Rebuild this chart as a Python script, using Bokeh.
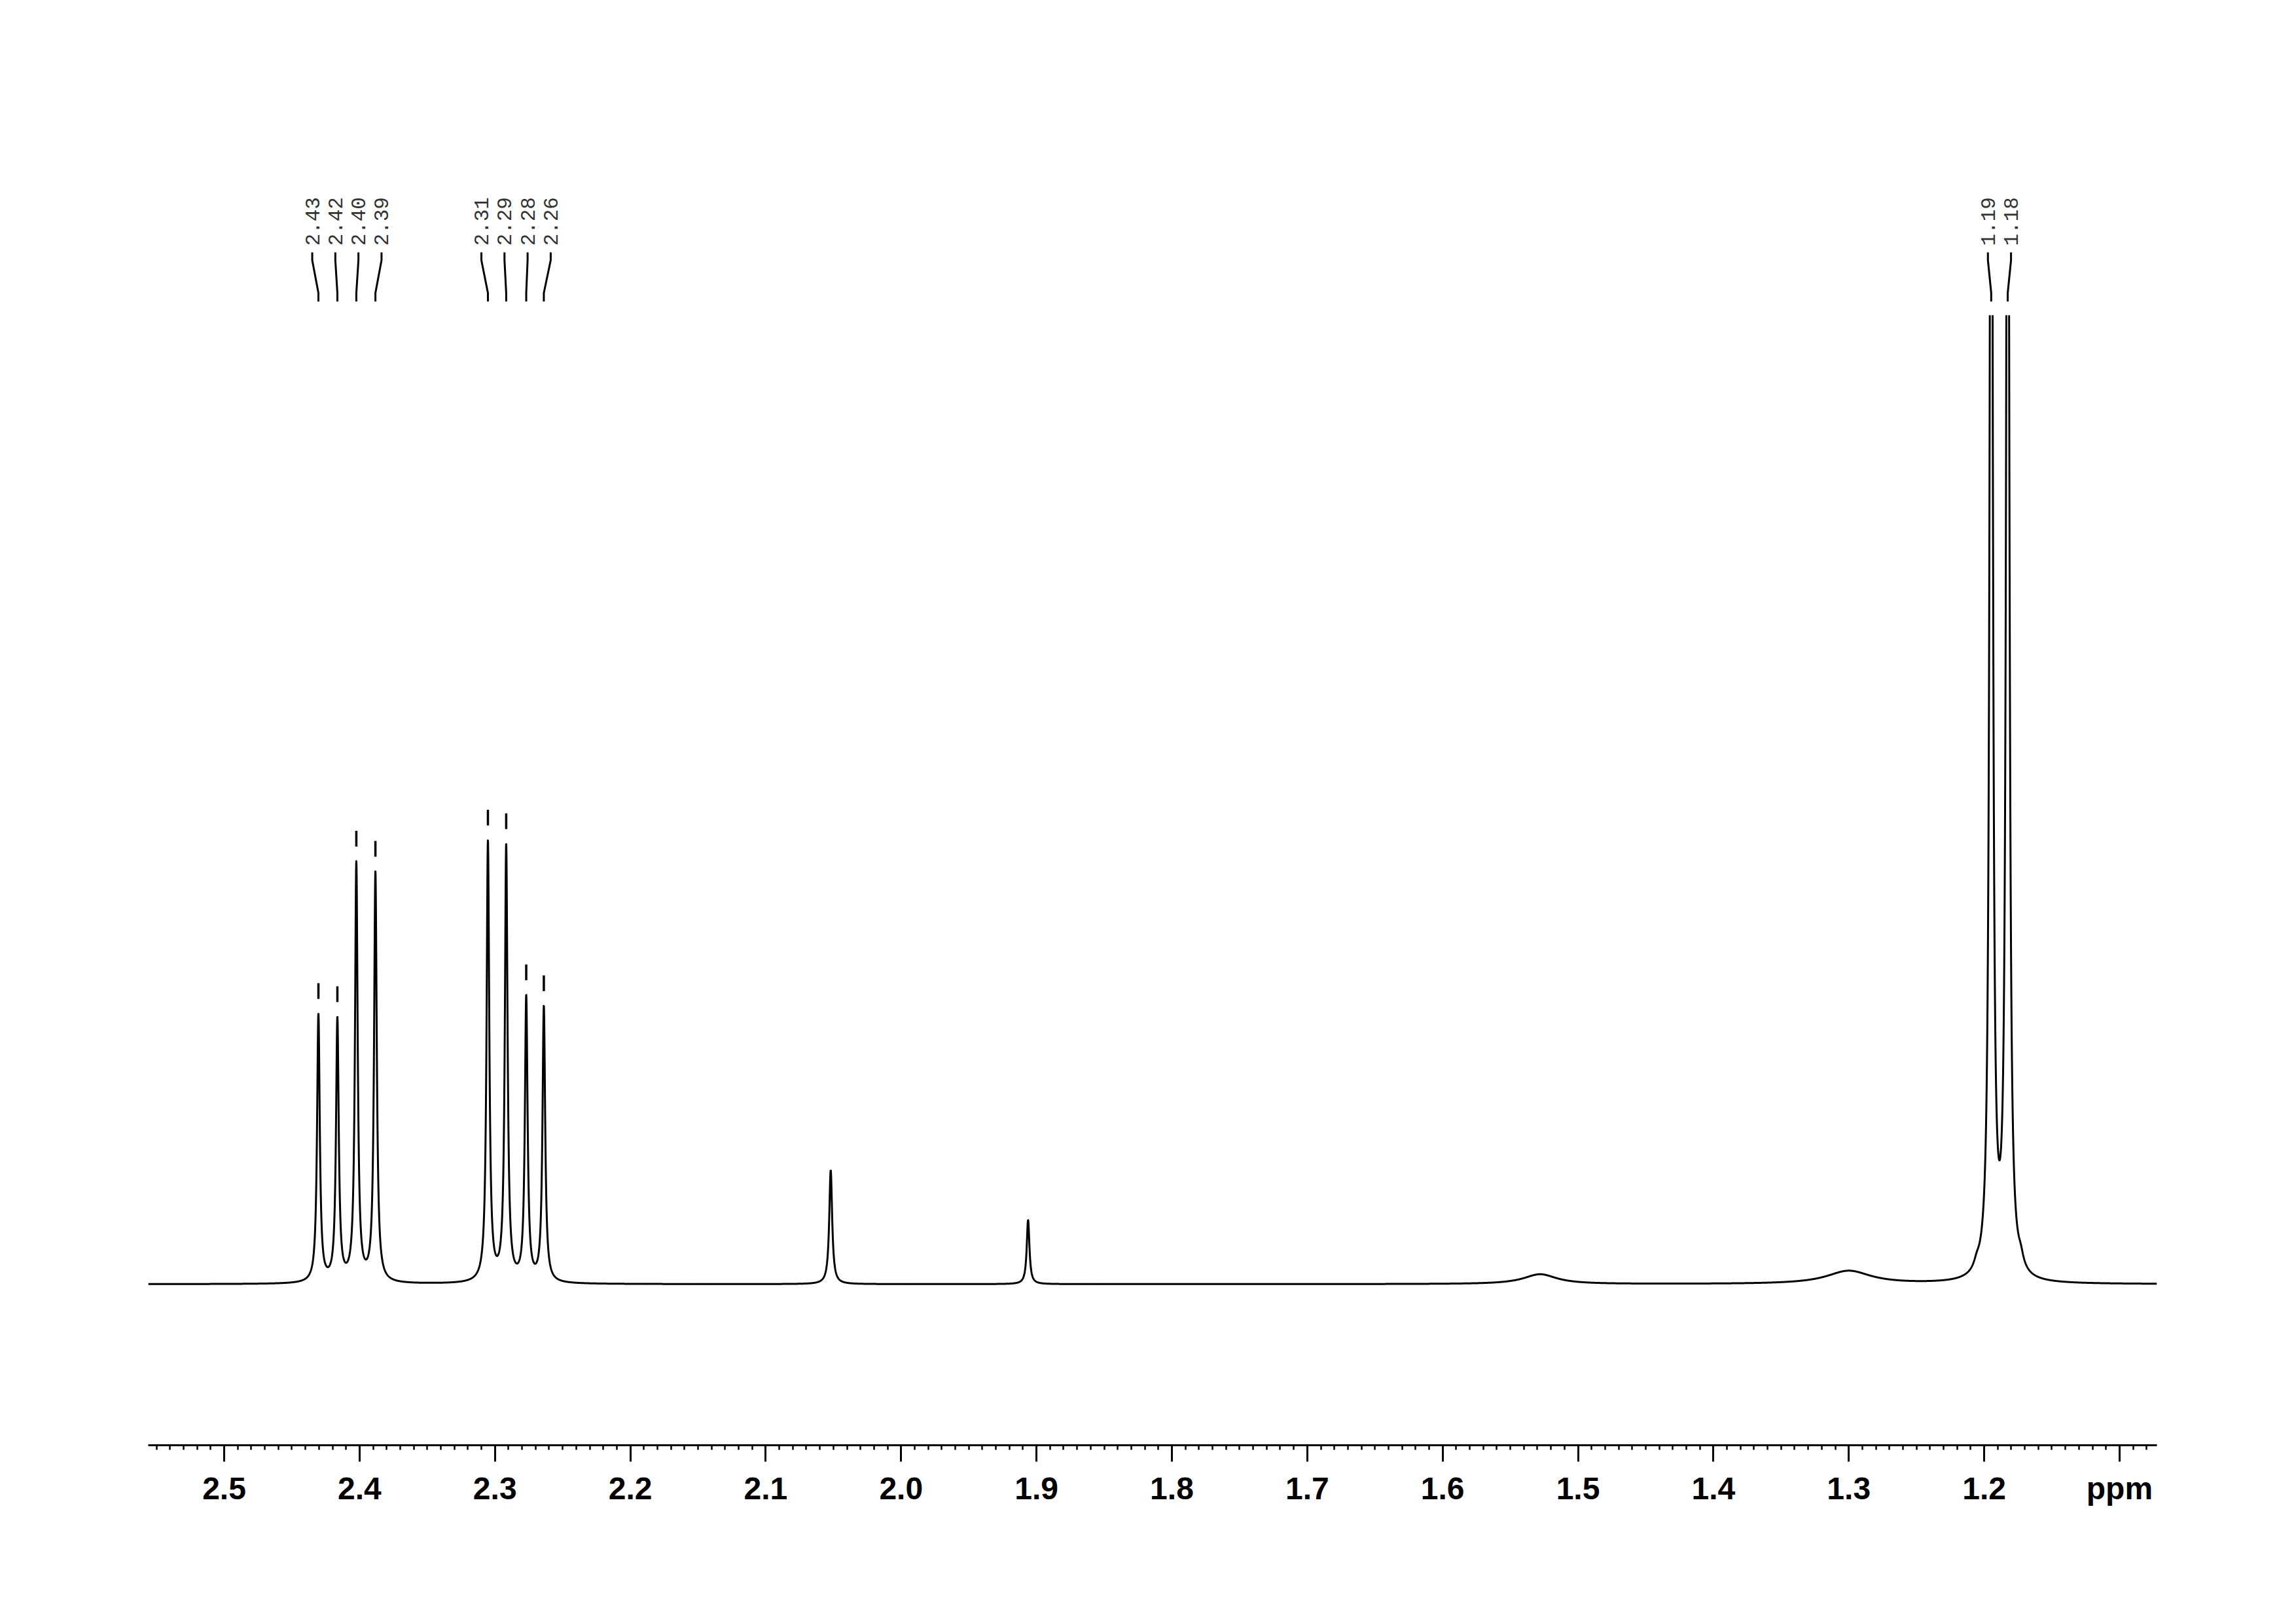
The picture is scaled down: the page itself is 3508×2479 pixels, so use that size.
import numpy as np
from bokeh.plotting import figure
from bokeh.models import Range1d, FixedTicker
from bokeh.layouts import column
from bokeh.core.properties import value
from bokeh.embed import file_html
from bokeh.resources import INLINE

# ---------------- data ----------------
peak_ppm = [2.4304, 2.4164, 2.4024, 2.3883, 2.3052, 2.2917, 2.2769, 2.2639,
            2.0520, 1.9062, 1.1948, 1.1826]
peak_height = [40.9, 40.0, 63.8, 62.5, 67.2, 66.4, 43.3, 42.0,
               17.4, 9.8, 252.0, 252.0]
peak_hwhm = [0.0012, 0.0012, 0.0012, 0.0012, 0.0012, 0.0012, 0.0012, 0.0012,
             0.0013, 0.0012, 0.0012, 0.0012]
peak_label = ["2.43", "2.42", "2.40", "2.39", "2.31", "2.29", "2.28", "2.26",
              "", "", "1.19", "1.18"]

# small shoulders / broad baseline humps
minor_ppm = [1.2055, 1.1730, 1.528, 1.300]
minor_height = [1.0, 1.5, 1.5, 2.0]
minor_hwhm = [0.0025, 0.0025, 0.015, 0.020]

major_ticks = [2.5, 2.4, 2.3, 2.2, 2.1, 2.0, 1.9, 1.8, 1.7, 1.6, 1.5, 1.4, 1.3, 1.2, 1.1]
major_tick_labels = ["2.5", "2.4", "2.3", "2.2", "2.1", "2.0", "1.9", "1.8", "1.7",
                     "1.6", "1.5", "1.4", "1.3", "1.2", "ppm"]
minor_ticks = [round(2.55 - 0.01 * i, 2) for i in range(148)]

X_START, X_END = 2.5561, 1.0724

# ---------------- spectrum from the peak list ----------------
grid = np.linspace(X_START, X_END, 12000)
x = np.sort(np.concatenate([grid, np.array(peak_ppm)]))[::-1]


def spectrum(xx):
    xx = np.asarray(xx, dtype=float)
    s = np.zeros_like(xx)
    for c, h, g in zip(peak_ppm + minor_ppm, peak_height + minor_height,
                       peak_hwhm + minor_hwhm):
        s += h / (1.0 + ((xx - c) / g) ** 2)
    return s


y = spectrum(x)

# ---------------- layout constants ----------------
FIG_W = 3492
LEFT_B, RIGHT_B = 226, 197
PX_PER_PPM = (FIG_W - LEFT_B - RIGHT_B) / (X_START - X_END)
LABEL_SPACING = 35.3 / PX_PER_PPM
TOP_H = 481
MAIN_H = 1982

x_range = Range1d(start=X_START, end=X_END)

# ---------------- label figure (top) ----------------
pt = figure(width=FIG_W, height=TOP_H, x_range=x_range, y_range=Range1d(0, TOP_H),
            output_backend="svg", toolbar_location=None,
            x_axis_location=None, y_axis_location=None,
            min_border_left=LEFT_B, min_border_right=RIGHT_B,
            min_border_top=0, min_border_bottom=0)
pt.grid.visible = False
pt.outline_line_color = None
pt.background_fill_color = "white"
pt.border_fill_color = "white"

lab_idx = [i for i, t in enumerate(peak_label) if t]
lab_idx.sort(key=lambda i: -peak_ppm[i])
groups = []
for i in lab_idx:
    if groups and abs(peak_ppm[groups[-1][-1]] - peak_ppm[i]) < 0.03:
        groups[-1].append(i)
    else:
        groups.append([i])

lx, px_, texts = [], [], []
for g in groups:
    center = np.mean([peak_ppm[i] for i in g])
    n = len(g)
    for k, i in enumerate(g):
        lx.append(center + (((n - 1) / 2.0) - k) * LABEL_SPACING)
        px_.append(peak_ppm[i])
        texts.append(peak_label[i])

pt.text(x=lx, y=[106] * len(lx), text=texts, angle=np.pi / 2,
        text_align="left", text_baseline="middle",
        text_font=value("Liberation Mono"), text_font_size="31px",
        text_color="#333333")

xs = [[a, a, b, b] for a, b in zip(lx, px_)]
ys = [[96, 84, 34, 21] for _ in lx]
pt.multi_line(xs=xs, ys=ys, line_color="black", line_width=3)

# ---------------- spectrum figure ----------------
p = figure(width=FIG_W, height=MAIN_H, x_range=x_range, y_range=Range1d(-24.6, 148.0),
           output_backend="svg", toolbar_location=None,
           x_axis_location="below", y_axis_location=None,
           min_border_left=LEFT_B, min_border_right=RIGHT_B,
           min_border_top=0, min_border_bottom=MAIN_H - 1726)
p.grid.visible = False
p.outline_line_color = None
p.background_fill_color = "white"
p.border_fill_color = "white"

p.line(x, y, line_color="black", line_width=3)

# peak-pick marks above labelled peaks
mx = [peak_ppm[i] for i in lab_idx]
mtop = spectrum(mx)
p.segment(x0=mx, y0=list(mtop + 2.2), x1=mx, y1=list(mtop + 4.6),
          line_color="black", line_width=3.5)

ax = p.xaxis[0]
ax.ticker = FixedTicker(ticks=major_ticks, minor_ticks=minor_ticks)
ax.major_label_overrides = {t: l for t, l in zip(major_ticks, major_tick_labels)}
ax.axis_line_width = 3
ax.axis_line_color = "black"
ax.major_tick_line_width = 3
ax.major_tick_line_color = "black"
ax.major_tick_out = 25
ax.major_tick_in = 0
ax.minor_tick_line_width = 2.5
ax.minor_tick_line_color = "black"
ax.minor_tick_out = 7
ax.minor_tick_in = 0
ax.major_label_standoff = 14
ax.major_label_text_font = "Liberation Sans"
ax.major_label_text_font_style = "bold"
ax.major_label_text_font_size = "48px"
ax.major_label_text_color = "black"

layout = column(pt, p, spacing=0)
open("out.html", "w").write(file_html(layout, INLINE))
